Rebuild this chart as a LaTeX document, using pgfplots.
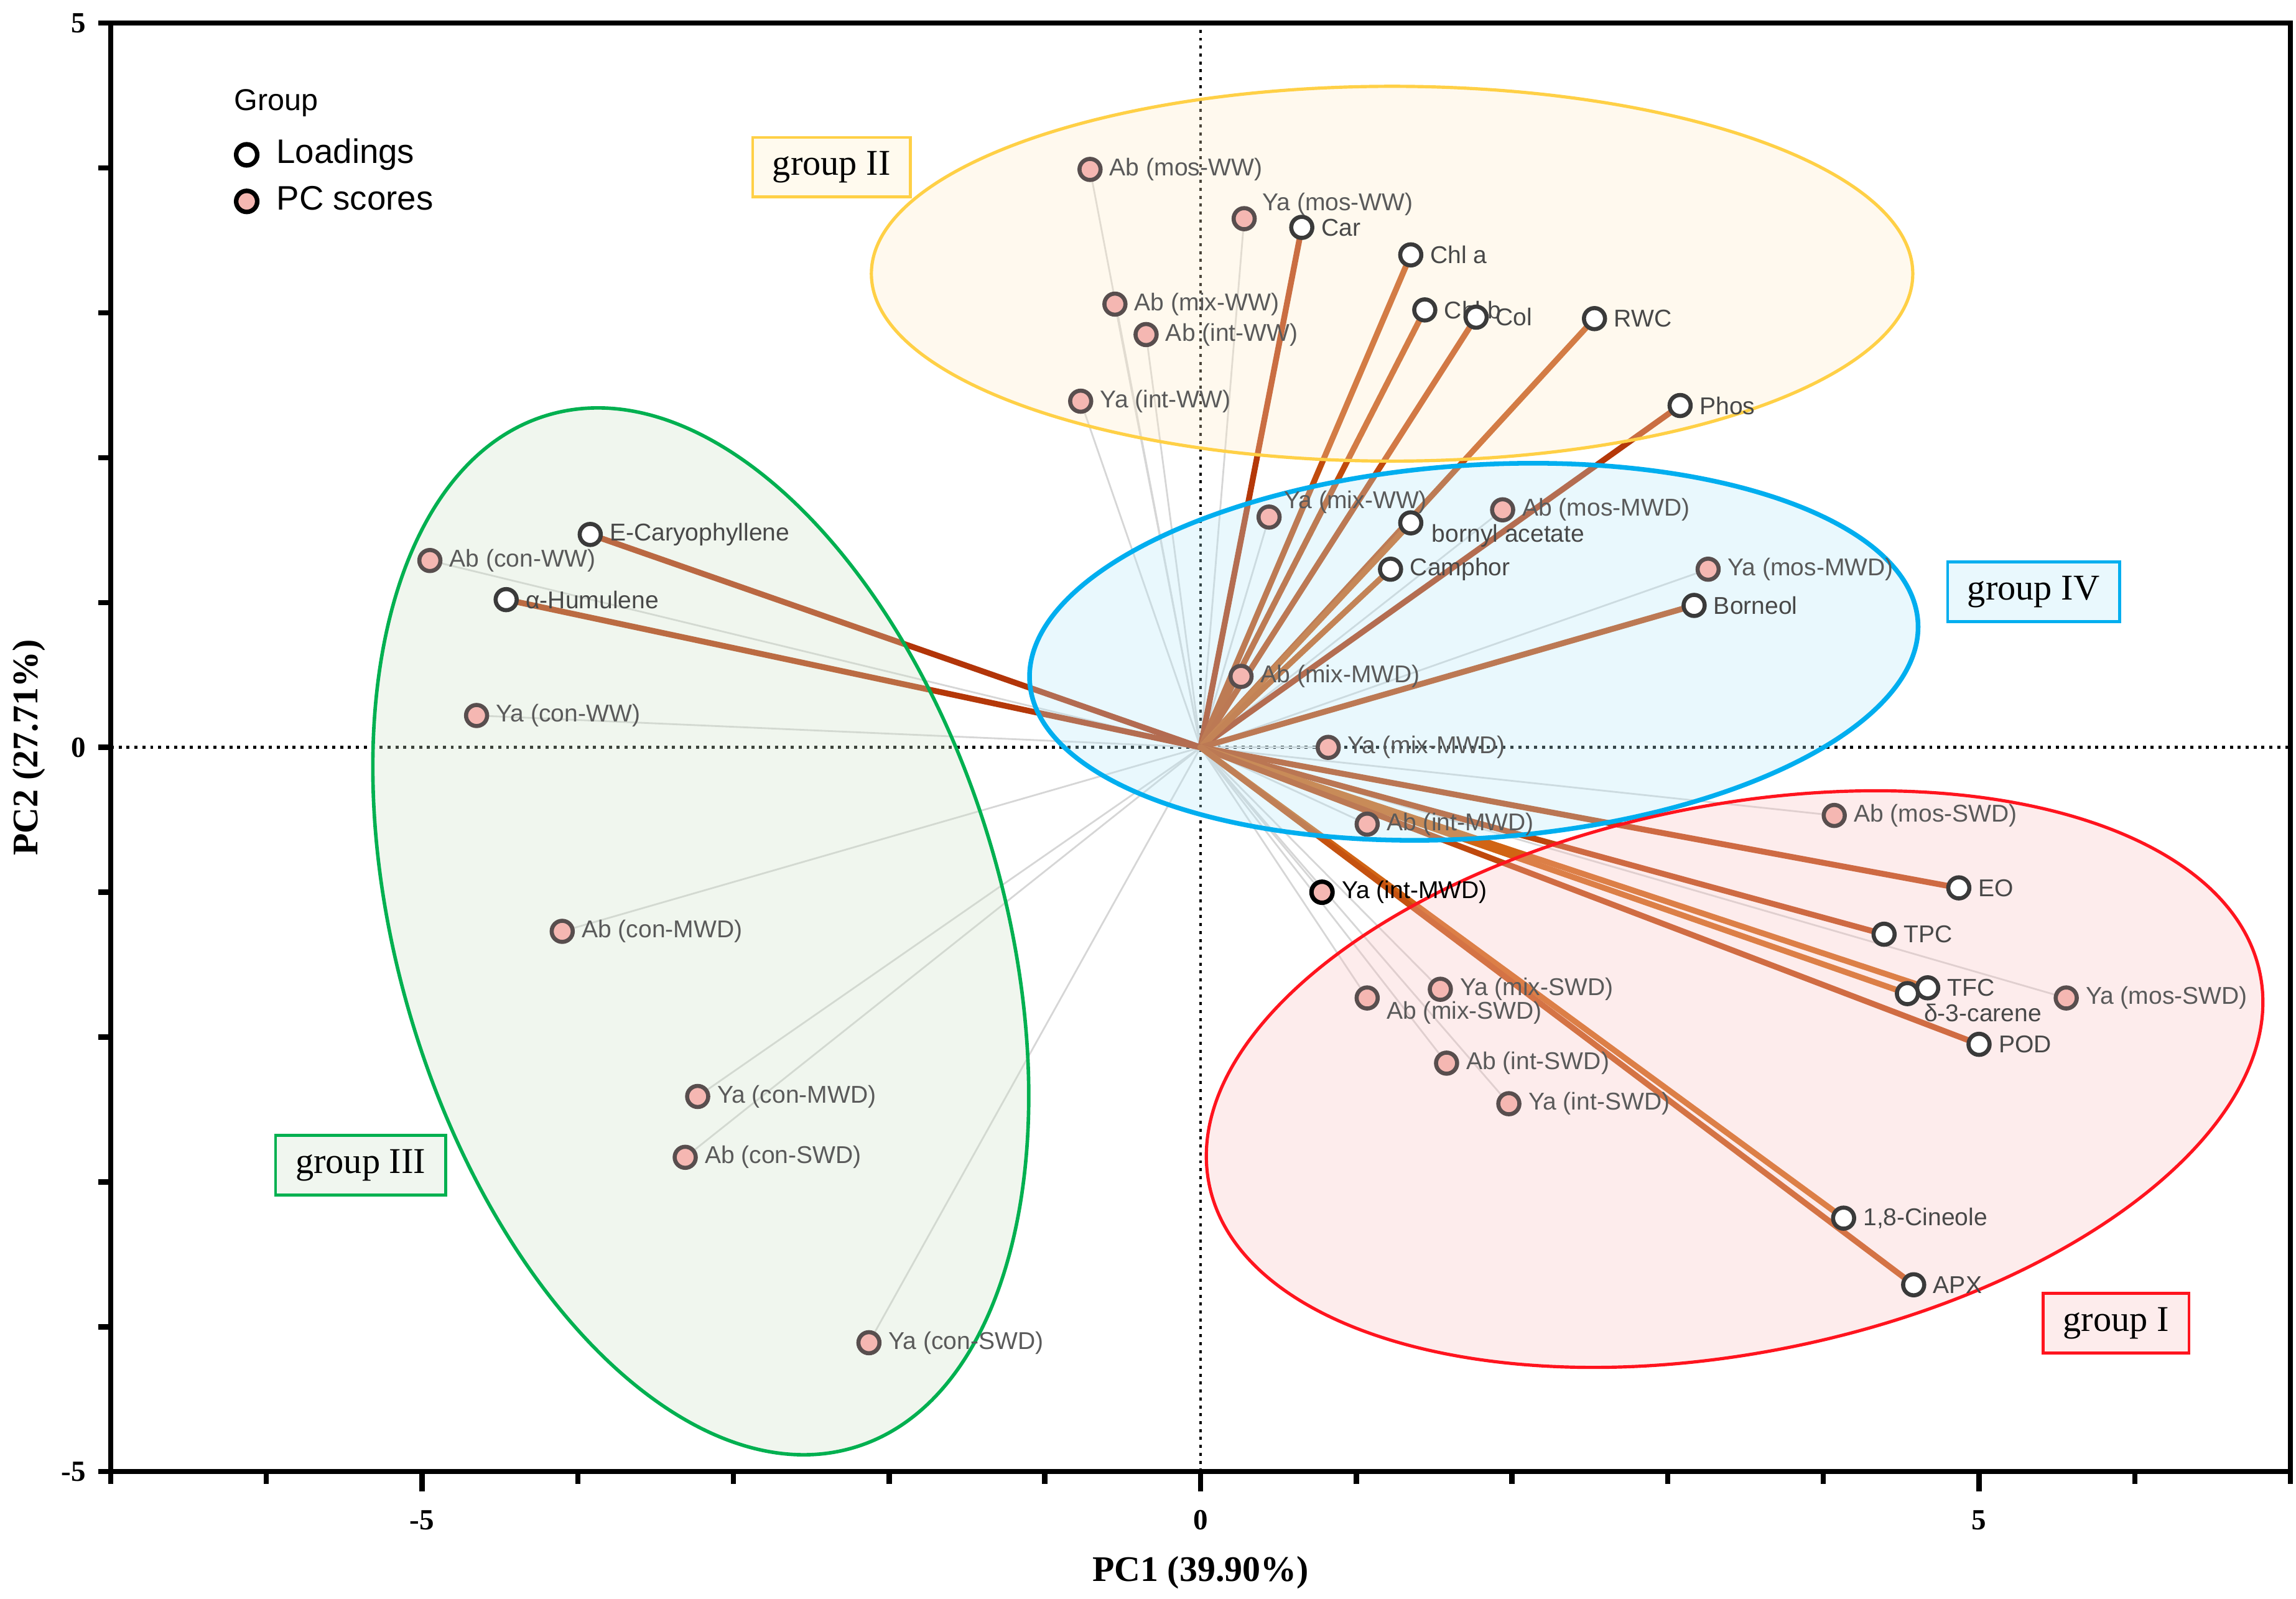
\documentclass[border=0pt]{standalone}
\usepackage{pgfplots}
\pgfplotsset{compat=1.18}
\usepackage{pgfplotstable}
\usepackage{fontspec}
\setmainfont{Liberation Serif}
\newfontfamily\arialf{Liberation Sans}

\definecolor{gIline}{RGB}{255,20,30}
\definecolor{gIfill}{RGB}{248,192,192}
\definecolor{gIbox}{RGB}{253,236,236}
\definecolor{gIIline}{RGB}{255,208,70}
\definecolor{gIIfill}{RGB}{255,235,198}
\definecolor{gIIbox}{RGB}{255,250,238}
\definecolor{gIIIline}{RGB}{0,176,80}
\definecolor{gIIIfill}{RGB}{205,225,198}
\definecolor{gIIIbox}{RGB}{240,246,239}
\definecolor{gIVline}{RGB}{0,174,239}
\definecolor{gIVfill}{RGB}{182,232,248}
\definecolor{gIVbox}{RGB}{233,248,253}
\definecolor{linegrey}{RGB}{214,214,214}
\definecolor{pinkfill}{RGB}{245,183,178}
\definecolor{scoreedge}{RGB}{88,78,78}
\definecolor{loadedge}{RGB}{58,58,58}
\definecolor{scoretext}{RGB}{90,90,90}
\definecolor{loadtext}{RGB}{72,72,72}

\newcommand\labfont{\arialf\fontsize{8.3}{10}\selectfont}

% loadings: PC1, PC2, colour index, label offset (pt), name
\pgfplotstableread{
x y c dx dy label
0.65 3.59 0.10 6 0 Car
1.35 3.40 0.45 6 0 {Chl a}
1.44 3.02 0.45 6 0 {Chl b}
1.77 2.97 0.40 6 0 Col
2.53 2.96 0.45 6 0 RWC
3.08 2.36 0.10 6 0 Phos
1.35 1.55 0.75 6.5 -4.5 {bornyl acetate}
1.22 1.23 0.65 6 0 Camphor
3.17 0.98 0.40 6 0 Borneol
-3.92 1.47 0.05 6 0 E-Caryophyllene
-4.46 1.02 0.10 6 0 α-Humulene
4.87 -0.97 0.35 6 0 EO
4.39 -1.29 0.35 6 0 TPC
4.67 -1.66 0.85 6 0 TFC
4.54 -1.70 0.85 5 -6.5 δ-3-carene
5.00 -2.05 0.40 6 0 POD
4.13 -3.25 0.85 6 0 {1,8-Cineole}
4.58 -3.71 0.55 6 0 APX
}\loadings

% PC scores: PC1, PC2, label offset (pt), name
\pgfplotstableread{
x y dx dy label
-0.71 3.99 6 0 {Ab (mos-WW)}
0.28 3.65 5.5 5 {Ya (mos-WW)}
-0.55 3.06 6 0 {Ab (mix-WW)}
-0.35 2.85 6 0 {Ab (int-WW)}
-0.77 2.39 6 0 {Ya (int-WW)}
0.44 1.59 4.5 5 {Ya (mix-WW)}
1.94 1.64 6 0 {Ab (mos-MWD)}
3.26 1.23 6 0 {Ya (mos-MWD)}
0.26 0.49 6 0 {Ab (mix-MWD)}
0.82 0.00 6 0 {Ya (mix-MWD)}
1.07 -0.53 6 0 {Ab (int-MWD)}
4.07 -0.47 6 0 {Ab (mos-SWD)}
5.56 -1.73 6 0 {Ya (mos-SWD)}
1.54 -1.67 6 0 {Ya (mix-SWD)}
1.07 -1.73 6 -5 {Ab (mix-SWD)}
1.58 -2.18 6 0 {Ab (int-SWD)}
1.98 -2.46 6 0 {Ya (int-SWD)}
-4.95 1.29 6 0 {Ab (con-WW)}
-4.65 0.22 6 0 {Ya (con-WW)}
-4.10 -1.27 6 0 {Ab (con-MWD)}
-3.23 -2.41 6 0 {Ya (con-MWD)}
-3.31 -2.83 6 0 {Ab (con-SWD)}
-2.13 -4.11 6 0 {Ya (con-SWD)}
}\scores

\begin{document}
\begin{tikzpicture}
\begin{axis}[
  scale only axis, width=744.3pt, height=494.7pt,
  xmin=-7, xmax=7, ymin=-5, ymax=5,
  clip mode=individual,
  axis line style={line width=1.8pt, black},
  tick align=outside, tick pos=left,
  xtick={-7,...,7}, xticklabels={,,-5,,,,,0,,,,,5,,},
  ytick={-5,...,5}, yticklabels={-5,,,,,0,,,,,5},
  major tick length=4.2pt,
  tick style={line width=1.8pt, black},
  extra x ticks={-5,0,5}, extra x tick labels={},
  extra x tick style={major tick length=6.8pt},
  tick label style={font=\fontsize{10}{12}\selectfont\bfseries},
  xticklabel style={yshift=-5.5pt},
  yticklabel style={xshift=-0.8pt},
  xlabel={PC1 (39.90\%)}, ylabel={PC2 (27.71\%)},
  label style={font=\fontsize{12.3}{14}\selectfont\bfseries},
  xlabel style={at={(axis description cs:0.5,-0.0758)}, anchor=base},
  ylabel style={at={(axis description cs:-0.0335,0.5)}, anchor=base},
  colormap={loadcol}{rgb255=(176,50,8) rgb255=(214,108,22)},
  point meta min=0, point meta max=1,
  legend cell align=left,
  legend style={at={(axis cs:-6.198,4.206)}, anchor=north west, draw=none, fill=none,
    inner sep=0pt, row sep=4.9pt, font=\arialf\fontsize{11.6}{13}\selectfont,
    nodes={inner sep=0pt, text height=8.4pt, text depth=2.6pt},
    /tikz/every odd column/.append style={column sep=6.6pt}},
]
% legend entries
\addlegendimage{only marks, mark=*, mark size=3.6pt, mark options={fill=white, draw=black, line width=1.55pt}}
\addlegendentry{Loadings}
\addlegendimage{only marks, mark=*, mark size=3.6pt, mark options={fill=pinkfill, draw=black, line width=1.55pt}}
\addlegendentry{PC scores}

% zero lines
\draw[line width=1.05pt, dash pattern=on 1.05pt off 1.65pt] (axis cs:-7,0) -- (axis cs:7,0);
\draw[line width=1.05pt, dash pattern=on 1.05pt off 1.65pt] (axis cs:0,-5) -- (axis cs:0,5);

% score vectors (grey)
\addplot[forget plot, draw=linegrey, line width=0.6pt,
  quiver={u=\thisrow{x}, v=\thisrow{y}}] table[x expr=0, y expr=0] {\scores};
\addplot[forget plot, draw=linegrey, line width=0.6pt] coordinates {(0,0) (0.78,-1.00)};

% loading vectors
\addplot[forget plot, line width=2pt, line cap=round,
  quiver={u=\thisrow{x}, v=\thisrow{y}, colored=mapped color},
  point meta=\thisrow{c}] table[x expr=0, y expr=0] {\loadings};

% ellipse fills
\fill[gIIfill, fill opacity=0.3] (axis cs:1.23,3.27) ellipse [x radius=177.8pt, y radius=64pt];
\fill[gIVfill, fill opacity=0.3, rotate around={3.9:(axis cs:1.755,0.66)}] (axis cs:1.755,0.66) ellipse [x radius=152pt, y radius=63.7pt];
\fill[gIfill, fill opacity=0.3, rotate around={11.3:(axis cs:3.43,-2.29)}] (axis cs:3.43,-2.29) ellipse [x radius=183pt, y radius=93.5pt];
\fill[gIIIfill, fill opacity=0.3, rotate around={16.5:(axis cs:-3.21,-1.27)}] (axis cs:-3.21,-1.27) ellipse [x radius=103.3pt, y radius=183.9pt];
% ellipse outlines
\draw[gIIline, line width=1.1pt] (axis cs:1.23,3.27) ellipse [x radius=177.8pt, y radius=64pt];
\draw[gIVline, line width=1.6pt, rotate around={3.9:(axis cs:1.755,0.66)}] (axis cs:1.755,0.66) ellipse [x radius=152pt, y radius=63.7pt];
\draw[gIline, line width=1.1pt, rotate around={11.3:(axis cs:3.43,-2.29)}] (axis cs:3.43,-2.29) ellipse [x radius=183pt, y radius=93.5pt];
\draw[gIIIline, line width=1.2pt, rotate around={16.5:(axis cs:-3.21,-1.27)}] (axis cs:-3.21,-1.27) ellipse [x radius=103.3pt, y radius=183.9pt];

% loadings markers + labels
\addplot[forget plot, only marks, mark=*, mark size=3.6pt,
  mark options={fill=white, draw=loadedge, line width=1.4pt},
  nodes near coords, point meta=explicit symbolic,
  visualization depends on={\thisrow{dx}\as\dx},
  visualization depends on={\thisrow{dy}\as\dy},
  nodes near coords style={anchor=west, inner sep=0pt, xshift=\dx pt, yshift=\dy pt,
    font=\labfont, text=loadtext}]
  table[x=x, y=y, meta=label] {\loadings};

% score markers + labels
\addplot[forget plot, only marks, mark=*, mark size=3.6pt,
  mark options={fill=pinkfill, draw=scoreedge, line width=1.4pt},
  nodes near coords, point meta=explicit symbolic,
  visualization depends on={\thisrow{dx}\as\dx},
  visualization depends on={\thisrow{dy}\as\dy},
  nodes near coords style={anchor=west, inner sep=0pt, xshift=\dx pt, yshift=\dy pt,
    font=\labfont, text=scoretext}]
  table[x=x, y=y, meta=label] {\scores};

\addplot[forget plot, only marks, mark=*, mark size=3.6pt,
  mark options={fill=pinkfill, draw=black, line width=1.5pt},
  nodes near coords, point meta=explicit symbolic,
  nodes near coords style={anchor=west, inner sep=0pt, xshift=6pt,
    font=\labfont, text=black}]
  coordinates {(0.78,-1.00) [Ya (int-MWD)]};

% group boxes
\node[draw=gIIline, fill=gIIbox, line width=1pt, font=\fontsize{12.4}{14}\selectfont,
  inner xsep=6.8pt, inner ysep=0pt, minimum height=20.3pt] at (axis cs:-2.37,4.005) {group II};
\node[draw=gIVline, fill=gIVbox, line width=1pt, font=\fontsize{12.4}{14}\selectfont,
  inner xsep=6.8pt, inner ysep=0pt, minimum height=20.3pt] at (axis cs:5.35,1.074) {group IV};
\node[draw=gIIIline, fill=gIIIbox, line width=1pt, font=\fontsize{12.4}{14}\selectfont,
  inner xsep=6.8pt, inner ysep=0pt, minimum height=20.3pt] at (axis cs:-5.395,-2.884) {group III};
\node[draw=gIline, fill=gIbox, line width=1pt, font=\fontsize{12.4}{14}\selectfont,
  inner xsep=6.8pt, inner ysep=0pt, minimum height=20.3pt] at (axis cs:5.88,-3.975) {group I};

\node[anchor=west, inner sep=0pt, font=\arialf\fontsize{10.3}{12}\selectfont] at (axis cs:-6.211,4.45) {Group};
\end{axis}
\pgfresetboundingbox
\path[use as bounding box] ([shift={(-37.8pt,-43.4pt)}]current axis.south west) rectangle ([shift={(1.9pt,7.9pt)}]current axis.north east);
\end{tikzpicture}
\end{document}
